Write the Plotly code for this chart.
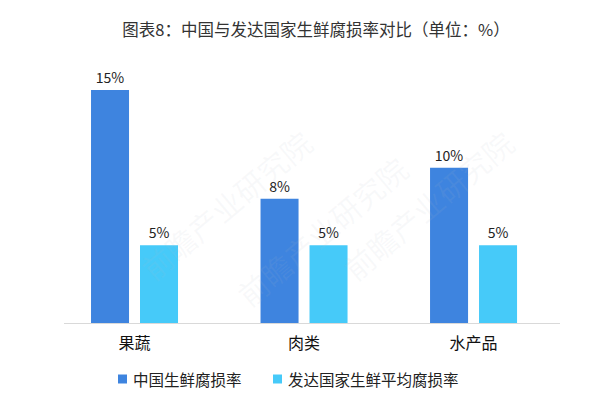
import plotly.graph_objects as go

categories = ["果蔬", "肉类", "水产品"]
china_values = [15, 8, 10]
developed_values = [5, 5, 5]
series_names = ["中国生鲜腐损率", "发达国家生鲜平均腐损率"]
series_colors = ["#3E84DF", "#46CAF9"]
title_text = "图表8：中国与发达国家生鲜腐损率对比（单位：%）"

FONT = "Microsoft YaHei, Noto Sans CJK SC, sans-serif"
L, R, T, B = 64, 36, 60, 75
W, H = 596, 398
PW, PH = W - L - R, H - T - B

def px_x(p):
    return (p - L) / PW

def px_y(p):
    return (H - B - p) / PH

fig = go.Figure()
for name, vals, col in zip(series_names, [china_values, developed_values], series_colors):
    fig.add_trace(go.Bar(
        x=categories, y=vals, name=name,
        marker=dict(color=col, line=dict(width=0)),
        text=[f"{v}%" for v in vals], textposition="outside",
        textfont=dict(size=14, color="#222222", family=FONT), cliponaxis=False,
        showlegend=False, hoverinfo="skip",
    ))

# faint watermark
for (x, y) in [(0.13, 0.45), (0.52, 0.35), (0.93, 0.78)]:
    fig.add_annotation(
        x=x, y=y, xref="paper", yref="paper", text="前瞻产业研究院",
        showarrow=False, textangle=-40,
        font=dict(size=30, color="rgba(180,190,200,0.09)", family=FONT),
    )

# manual legend
legend_pos = [118, 273]
for name, col, lx in zip(series_names, series_colors, legend_pos):
    fig.add_shape(type="rect", xref="paper", yref="paper",
                  x0=px_x(lx), x1=px_x(lx + 9), y0=px_y(383.5), y1=px_y(374.5),
                  fillcolor=col, line=dict(width=0))
    fig.add_annotation(x=px_x(lx + 13), y=px_y(379), xref="paper", yref="paper",
                       text=name, showarrow=False, xanchor="left", yanchor="middle",
                       font=dict(size=15.5, color="#222222", family=FONT))

fig.update_layout(
    width=W, height=H,
    margin=dict(l=L, r=R, t=T, b=B, autoexpand=False),
    paper_bgcolor="white", plot_bgcolor="white",
    barmode="group", bargap=0.422, bargroupgap=0.224,
    title=dict(text=title_text, x=316/W, xanchor="center", y=1-30/H, yanchor="middle",
               font=dict(size=16.5, color="#333333", family=FONT)),
    font=dict(family=FONT),
    xaxis=dict(range=[-0.416, 2.51], showline=True, linecolor="#d9d9d9", linewidth=1,
               ticks="", showgrid=False, zeroline=False, automargin=False,
               ticklabelstandoff=6,
               tickfont=dict(size=16, color="#111111", family=FONT)),
    yaxis=dict(range=[0, 16.93], visible=False, showgrid=False, zeroline=False, automargin=False),
    showlegend=False,
)

fig.write_html("out.html", config={"displayModeBar": False},
               post_script="document.body.style.margin='0';document.body.style.overflow='hidden';")
